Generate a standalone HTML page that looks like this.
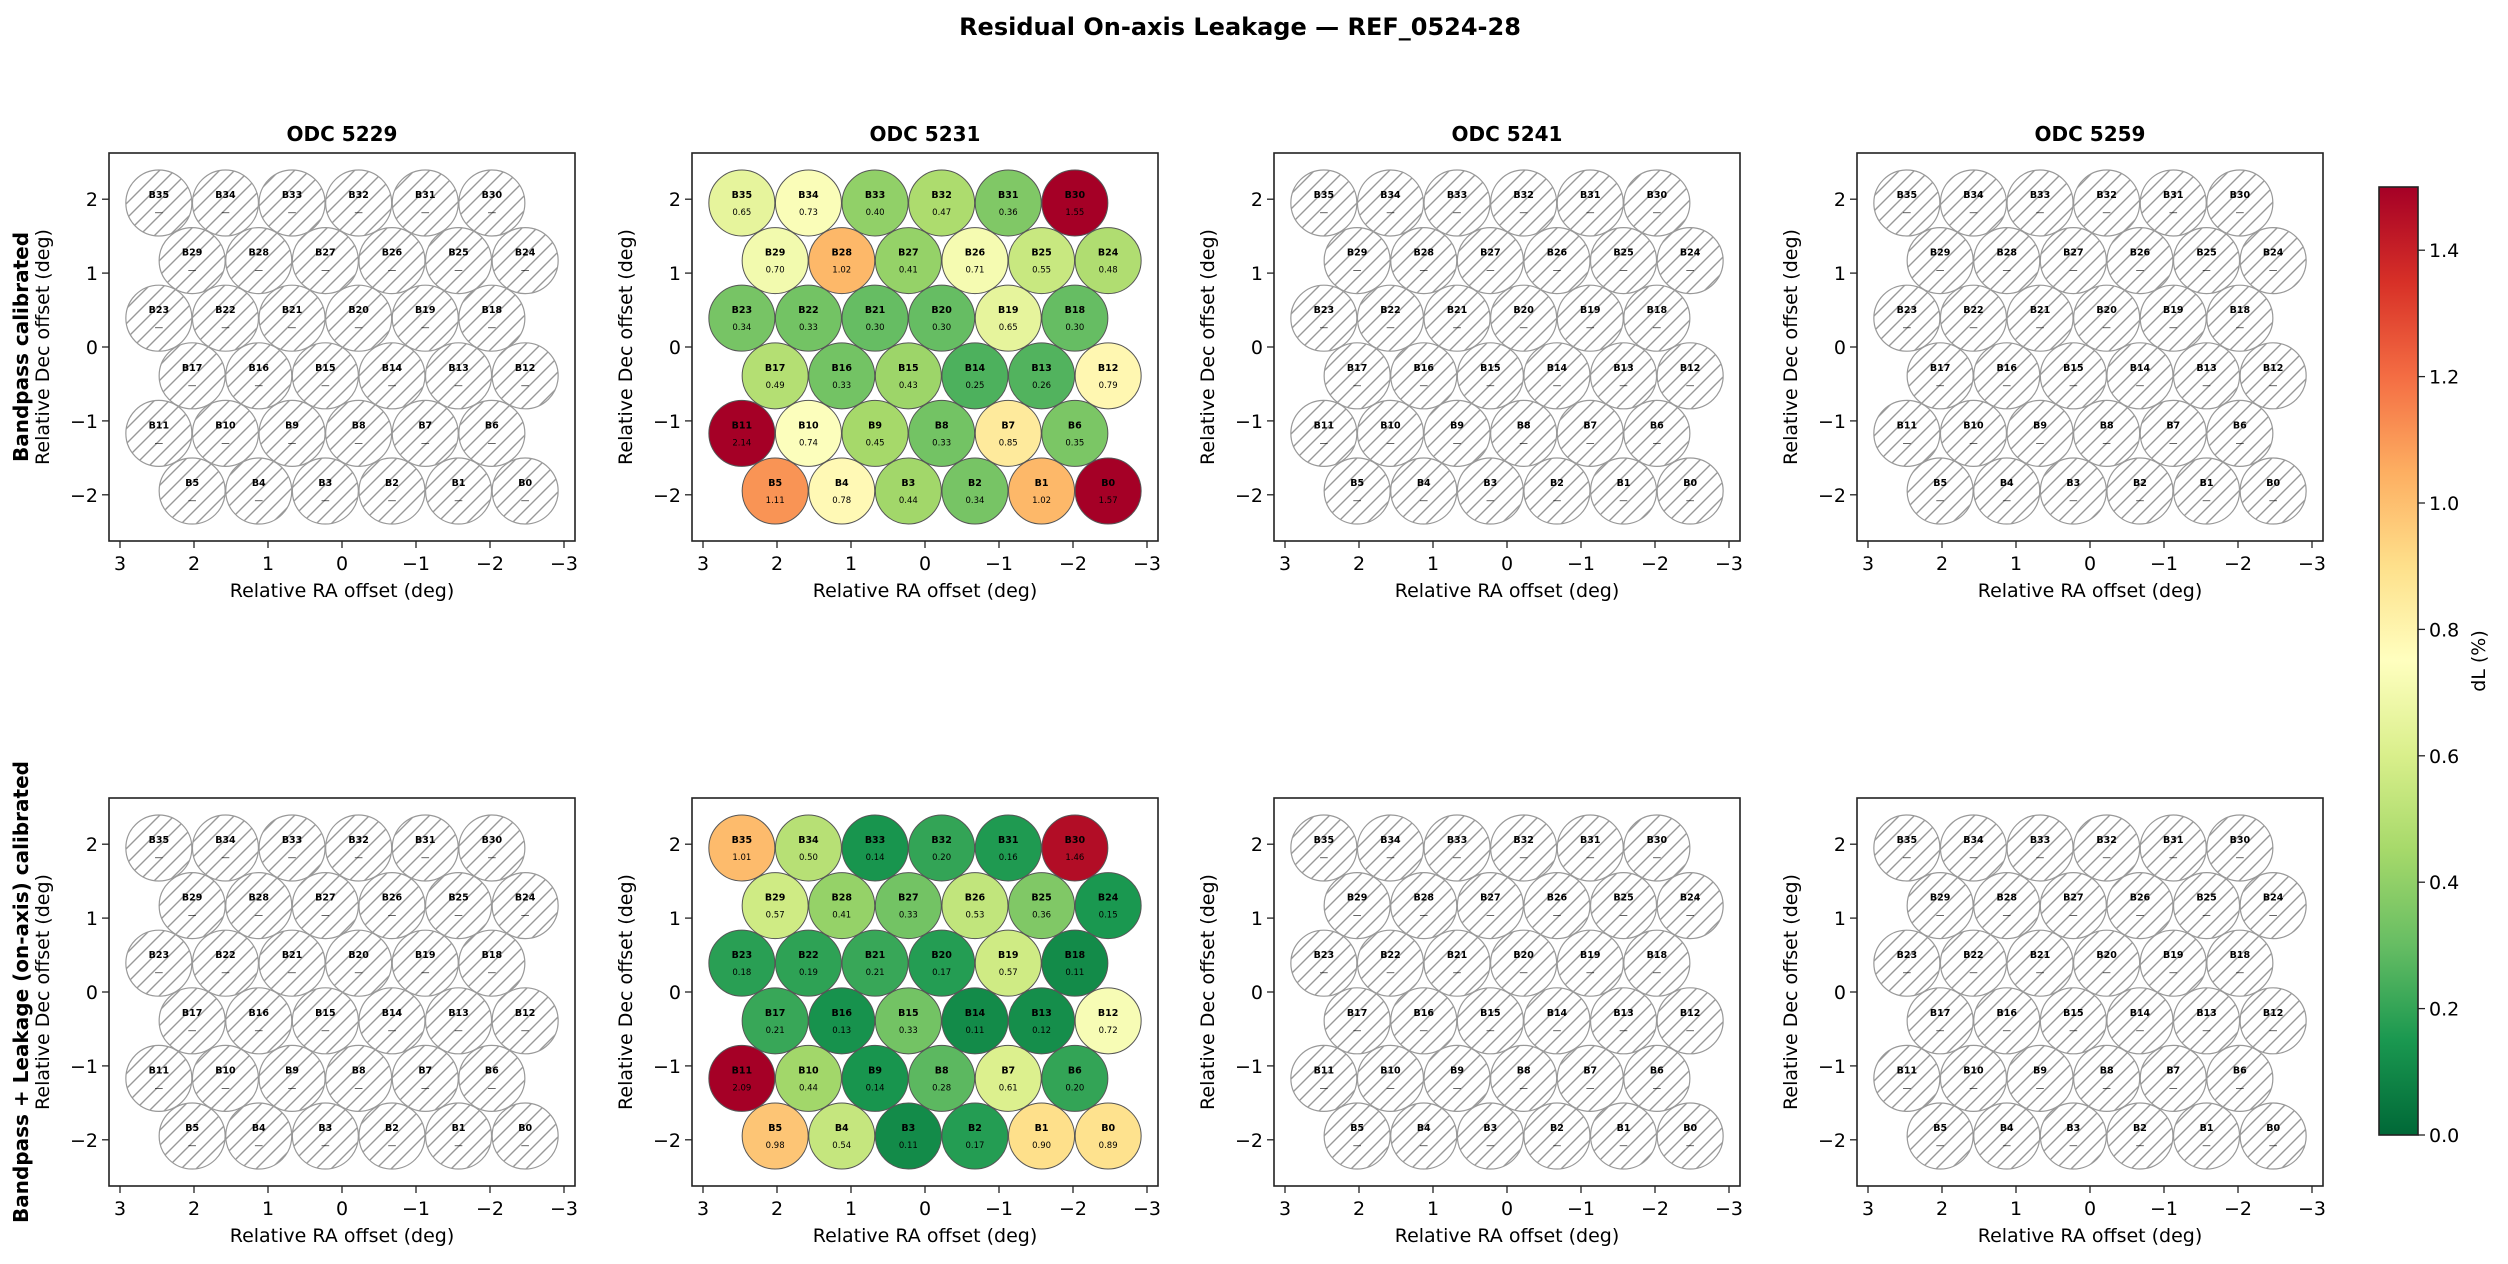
<!DOCTYPE html>
<html><head><meta charset="utf-8">
<style>
html,body{margin:0;padding:0;background:#fff;}
svg{display:block;font-family:"DejaVu Sans","Liberation Sans",sans-serif;}
</style></head>
<body>
<svg id="s" width="2508" height="1264" xmlns="http://www.w3.org/2000/svg">
<defs>
<pattern id="h" patternUnits="userSpaceOnUse" width="15" height="15">
<path d="M-2,17 L17,-2 M-2,2 L2,-2 M13,17 L17,13" stroke="#999" stroke-width="1.4"/>
</pattern>
<linearGradient id="cb" x1="0" y1="1" x2="0" y2="0">
<stop offset="0" stop-color="#006837"/><stop offset="0.1" stop-color="#1a9850"/>
<stop offset="0.2" stop-color="#66bd63"/><stop offset="0.3" stop-color="#a6d96a"/>
<stop offset="0.4" stop-color="#d9ef8b"/><stop offset="0.5" stop-color="#ffffbf"/>
<stop offset="0.6" stop-color="#fee08b"/><stop offset="0.7" stop-color="#fdae61"/>
<stop offset="0.8" stop-color="#f46d43"/><stop offset="0.9" stop-color="#d73027"/>
<stop offset="1" stop-color="#a50026"/>
</linearGradient>
</defs>
<text x="1240" y="35" font-size="24" font-weight="bold" text-anchor="middle">Residual On-axis Leakage — REF_0524-28</text>
<g id="g"></g>
</svg>
<script>
(function(){
var NS="http://www.w3.org/2000/svg",G=document.getElementById("g");
function el(t,a,txt){var e=document.createElementNS(NS,t);for(var k in a)e.setAttribute(k,a[k]);if(txt!==undefined)e.textContent=txt;G.appendChild(e);return e;}
var cols=["#006837","#1a9850","#66bd63","#a6d96a","#d9ef8b","#ffffbf","#fee08b","#fdae61","#f46d43","#d73027","#a50026"];
function hx(c){return[parseInt(c.substr(1,2),16),parseInt(c.substr(3,2),16),parseInt(c.substr(5,2),16)];}
function cmap(v){var t=Math.max(0,Math.min(1,v/1.5))*10;var i=Math.min(9,Math.floor(t)),f=t-i;var a=hx(cols[i]),b=hx(cols[i+1]);
return "rgb("+a.map(function(x,j){return Math.round(x+(b[j]-x)*f)}).join(",")+")";}
var dTop=[.65,.73,.40,.47,.36,1.55, .70,1.02,.41,.71,.55,.48, .34,.33,.30,.30,.65,.30, .49,.33,.43,.25,.26,.79, 2.14,.74,.45,.33,.85,.35, 1.11,.78,.44,.34,1.02,1.57];
var dBot=[1.01,.50,.14,.20,.16,1.46, .57,.41,.33,.53,.36,.15, .18,.19,.21,.17,.57,.11, .21,.13,.33,.11,.12,.72, 2.09,.44,.14,.28,.61,.20, .98,.54,.11,.17,.90,.89];
function beams(){var out=[];var ys=[1.949,1.169,0.39,-0.39,-1.169,-1.949];
for(var r=0;r<6;r++){var base=35-6*r;for(var k=0;k<6;k++){var idx=base-k;var x=(r%2==0)?(2.475-0.9*k):(2.025-0.9*k);out.push({n:"B"+idx,x:x,y:ys[r],i:r*6+k});}}return out;}
var B=beams();
var lefts=[109,692,1274,1857],tops=[153,798],W=466,H=388;
var titles=["ODC 5229","ODC 5231","ODC 5241","ODC 5259"];
for(var row=0;row<2;row++)for(var p=0;p<4;p++){
 (function(row,p){
 var L=lefts[p],T=tops[row];
 var sx=function(x){return L+W/2-x*74;}, sy=function(y){return T+H/2-y*73.9;};
 if(row==0) el("text",{x:L+W/2,y:T-12,"font-size":20,"font-weight":"bold","text-anchor":"middle"},titles[p]);
 var data=(p==1)?(row==0?dTop:dBot):null;
 B.forEach(function(b){var cx=sx(b.x),cy=sy(b.y);
  if(data){el("circle",{cx:cx,cy:cy,r:33,fill:cmap(data[b.i]),stroke:"#555","stroke-width":1});}
  else{el("circle",{cx:cx,cy:cy,r:33,fill:"url(#h)",stroke:"#999","stroke-width":1.2});}
  el("text",{x:cx,y:cy-5,"font-size":9.5,"font-weight":"bold","text-anchor":"middle"},b.n);
  el("text",{x:cx,y:cy+12,"font-size":8.5,"text-anchor":"middle"},data?data[b.i].toFixed(2):"—");
 });
 el("rect",{x:L,y:T,width:W,height:H,fill:"none",stroke:"#222","stroke-width":1.6});
 [3,2,1,0,-1,-2,-3].forEach(function(v){var x=sx(v);el("line",{x1:x,y1:T+H,x2:x,y2:T+H+7,stroke:"#222","stroke-width":1.3});
  el("text",{x:x,y:T+H+29,"font-size":19,"text-anchor":"middle"},v<0?"−"+(-v):""+v);});
 [2,1,0,-1,-2].forEach(function(v){var y=sy(v);el("line",{x1:L-7,y1:y,x2:L,y2:y,stroke:"#222","stroke-width":1.3});
  el("text",{x:L-11,y:y+7,"font-size":19,"text-anchor":"end"},v<0?"−"+(-v):""+v);});
 el("text",{x:L+W/2,y:T+H+56,"font-size":19,"text-anchor":"middle"},"Relative RA offset (deg)");
 var yx=L-60,yc=T+H/2;
 el("text",{x:yx,y:yc,"font-size":19,"text-anchor":"middle",transform:"rotate(-90 "+yx+" "+yc+")"},"Relative Dec offset (deg)");
 })(row,p);
}
el("text",{x:28,y:347,"font-size":20,"font-weight":"bold","text-anchor":"middle",transform:"rotate(-90 28 347)"},"Bandpass calibrated");
el("text",{x:28,y:992,"font-size":20,"font-weight":"bold","text-anchor":"middle",transform:"rotate(-90 28 992)"},"Bandpass + Leakage (on-axis) calibrated");
var cT=187,cB=1135,cL=2379,cW=39;
el("rect",{x:cL,y:cT,width:cW,height:cB-cT,fill:"url(#cb)",stroke:"#222","stroke-width":1.6});
for(var v=0;v<=7;v++){var y=cB-(v*0.2)/1.5*(cB-cT);el("line",{x1:cL+cW,y1:y,x2:cL+cW+7,y2:y,stroke:"#222","stroke-width":1.3});
 el("text",{x:cL+cW+11,y:y+7,"font-size":19},(v*0.2).toFixed(1));}
el("text",{x:2485,y:661,"font-size":19,"text-anchor":"middle",transform:"rotate(-90 2485 661)"},"dL  (%)");
})();
</script>
</body></html>
